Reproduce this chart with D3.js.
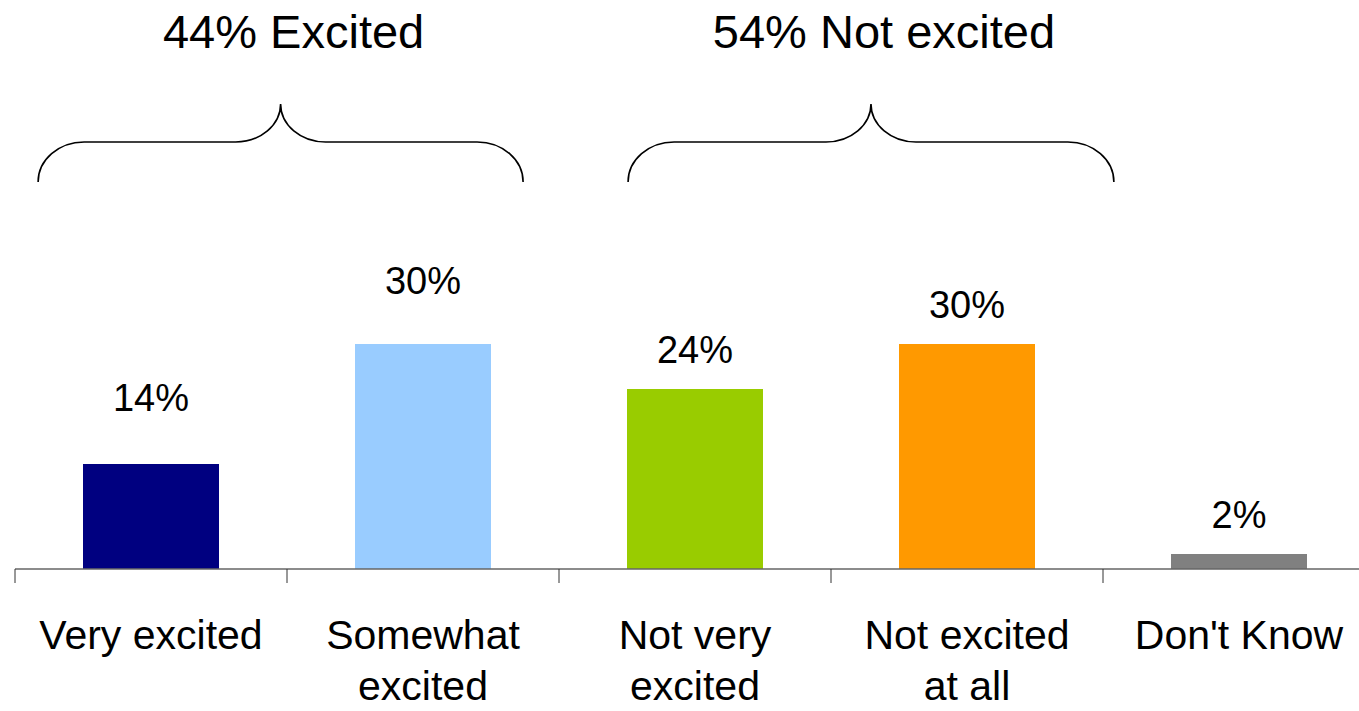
<!DOCTYPE html>
<html>
<head>
<meta charset="utf-8">
<script src="https://cdn.jsdelivr.net/npm/d3@7"></script>
<style>
  body { margin: 0; background: #fff; }
  text { font-family: "Liberation Sans", Arial, Helvetica, sans-serif; fill: #000; }
</style>
</head>
<body>
<script>
// data
var categories = ["Very excited", "Somewhat excited", "Not very excited", "Not excited at all", "Don't Know"];
var labelLines = [["Very excited"], ["Somewhat", "excited"], ["Not very", "excited"], ["Not excited", "at all"], ["Don't Know"]];
var values = [14, 30, 24, 30, 2];
var colors = ["#000080", "#99ccff", "#99cc00", "#ff9900", "#808080"];

// groups shown with braces above the bars
var groupNames = ["Excited", "Not excited"];
var groupMembers = [[0, 1], [2, 3]];

// layout bits (pixels / slot units)
var labelGap = [53, 50, 26, 26, 26];
var braceSpan = [[0.085, 1.868], [2.254, 4.04]];

var width = 1359, height = 711;
var baseY = 569;

var svg = d3.select("body").append("svg")
    .attr("width", width)
    .attr("height", height);

var x = d3.scaleBand()
    .domain(categories)
    .range([15, 1375])
    .paddingInner(0.5)
    .paddingOuter(0.25);

var slot = d3.scaleLinear().domain([0, 5]).range([15, 1375]);

var y = d3.scaleLinear()
    .domain([0, 30])
    .range([baseY, 344]);

// bars
svg.selectAll("rect.bar")
    .data(values)
    .enter()
    .append("rect")
    .attr("class", "bar")
    .attr("x", function(d, i) { return x(categories[i]); })
    .attr("y", function(d) { return y(d); })
    .attr("width", x.bandwidth())
    .attr("height", function(d) { return baseY - y(d); })
    .attr("fill", function(d, i) { return colors[i]; });

// value labels
svg.selectAll("text.val")
    .data(values)
    .enter()
    .append("text")
    .attr("class", "val")
    .attr("x", function(d, i) { return x(categories[i]) + x.bandwidth() / 2; })
    .attr("y", function(d, i) { return y(d) - labelGap[i]; })
    .attr("text-anchor", "middle")
    .style("font-size", "38px")
    .text(function(d) { return d + "%"; });

// axis line with ticks between categories
svg.append("line")
    .attr("x1", slot(0)).attr("x2", slot(5))
    .attr("y1", baseY).attr("y2", baseY)
    .attr("stroke", "#666")
    .attr("stroke-width", 1.5);

svg.selectAll("line.tick")
    .data(d3.range(0, 5))
    .enter()
    .append("line")
    .attr("class", "tick")
    .attr("x1", function(d) { return slot(d); })
    .attr("x2", function(d) { return slot(d); })
    .attr("y1", baseY)
    .attr("y2", baseY + 14)
    .attr("stroke", "#333")
    .attr("stroke-width", 1);

// category labels
var cat = svg.selectAll("text.cat")
    .data(categories)
    .enter()
    .append("text")
    .attr("class", "cat")
    .attr("text-anchor", "middle")
    .style("font-size", "41px");

cat.selectAll("tspan")
    .data(function(d, i) {
        return labelLines[i].map(function(t) { return { t: t, c: d }; });
    })
    .enter()
    .append("tspan")
    .attr("x", function(d) { return x(d.c) + x.bandwidth() / 2; })
    .attr("y", function(d, j) { return 649 + j * 51; })
    .text(function(d) { return d.t; });

// braces
function bracePath(x0, x1, yt, ym, yb) {
    var xc = (x0 + x1) / 2;
    var rx = 46, ry = yb - ym, rx2 = 45, ry2 = ym - yt;
    return "M" + x0 + "," + yb +
        "A" + rx + "," + ry + " 0 0 1 " + (x0 + rx) + "," + ym +
        "L" + (xc - rx2) + "," + ym +
        "A" + rx2 + "," + ry2 + " 0 0 0 " + xc + "," + yt +
        "A" + rx2 + "," + ry2 + " 0 0 0 " + (xc + rx2) + "," + ym +
        "L" + (x1 - rx) + "," + ym +
        "A" + rx + "," + ry + " 0 0 1 " + x1 + "," + yb;
}

svg.selectAll("path.brace")
    .data(braceSpan)
    .enter()
    .append("path")
    .attr("class", "brace")
    .attr("d", function(d) { return bracePath(slot(d[0]), slot(d[1]), 104, 142, 182); })
    .attr("fill", "none")
    .attr("stroke", "#000")
    .attr("stroke-width", 1.6);

svg.selectAll("text.group")
    .data(groupNames)
    .enter()
    .append("text")
    .attr("class", "group")
    .attr("x", function(d, i) { return (slot(braceSpan[i][0]) + slot(braceSpan[i][1])) / 2 + 13; })
    .attr("y", 48)
    .attr("text-anchor", "middle")
    .style("font-size", "47px")
    .text(function(d, i) {
        var total = d3.sum(groupMembers[i], function(k) { return values[k]; });
        return total + "% " + d;
    });
</script>
</body>
</html>
